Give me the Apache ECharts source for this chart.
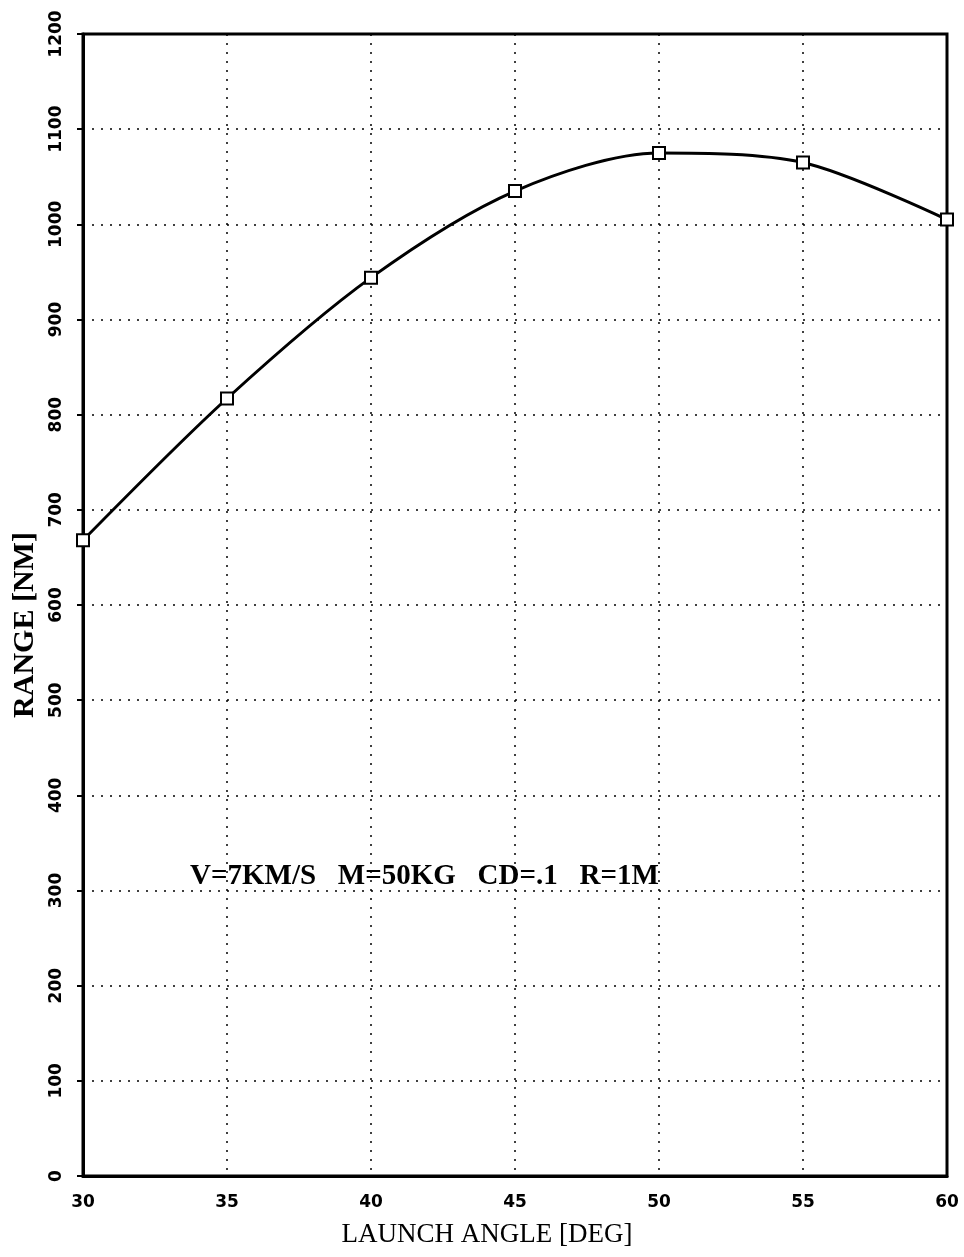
<!DOCTYPE html>
<html>
<head>
<meta charset="utf-8">
<script src="https://cdn.jsdelivr.net/npm/echarts@6/dist/echarts.min.js"></script>
<style>
  html, body { margin: 0; padding: 0; background: #fff; }
  #chart { width: 964px; height: 1257px; }
</style>
</head>
<body>
<div id="chart"></div>
<script>
const angles = [30, 35, 40, 45, 50, 55, 60]
const ranges = [668, 817, 944, 1035, 1075, 1065, 1005]
const note = 'V=7KM/S   M=50KG   CD=.1   R=1M'

const chart = echarts.init(document.getElementById('chart'))

const option = {
  backgroundColor: '#fff',
  animation: false,
  grid: {
    left: 83, right: 17, top: 34, bottom: 81,
    outerBoundsMode: 'none',
    containLabel: false,
    show: true, borderColor: '#000', borderWidth: 3
  },
  xAxis: {
    type: 'value',
    min: 30, max: 60, interval: 5,
    name: 'LAUNCH ANGLE [DEG]',
    nameLocation: 'middle',
    nameGap: 45,
    nameTextStyle: { fontFamily: 'Liberation Serif', fontSize: 27, color: '#000', padding: [0, 56, 0, 0] },
    axisLine: { lineStyle: { color: '#000', width: 3 } },
    axisTick: { show: false },
    axisLabel: { fontFamily: 'DejaVu Sans', fontWeight: 'bold', fontSize: 17, color: '#000', margin: 18 },
    splitLine: { show: true, lineStyle: { color: '#000', type: [2, 7], width: 1.5 } }
  },
  yAxis: {
    type: 'value',
    min: 0, max: 1200, interval: 100,
    name: 'RANGE [NM]',
    nameLocation: 'middle',
    nameGap: 42,
    nameRotate: 90,
    nameTextStyle: { fontFamily: 'Liberation Serif', fontWeight: 'bold', fontSize: 30, color: '#000', padding: [0, 40, 0, 0] },
    axisLine: { lineStyle: { color: '#000', width: 3 } },
    axisTick: { show: true, length: 6, lineStyle: { color: '#000', width: 2 } },
    axisLabel: {
      rotate: 90, fontFamily: 'DejaVu Sans', fontWeight: 'bold', fontSize: 17, color: '#000', margin: 18,
      formatter: v => String(v)
    },
    splitLine: { show: true, lineStyle: { color: '#000', type: [2, 7], width: 1.5 } }
  },
  graphic: [{
    type: 'text',
    x: 190, y: 877,
    style: {
      text: note,
      font: 'bold 29px "Liberation Serif"',
      fill: '#000',
      verticalAlign: 'middle'
    }
  }],
  series: [{
    type: 'line',
    data: angles.map((a, i) => [a, ranges[i]]),
    smooth: 0.3,
    symbol: 'emptyRect',
    symbolSize: 12,
    lineStyle: { color: '#000', width: 3 },
    itemStyle: { color: '#000', borderWidth: 2 }
  }]
}

chart.setOption(option)
</script>
</body>
</html>
